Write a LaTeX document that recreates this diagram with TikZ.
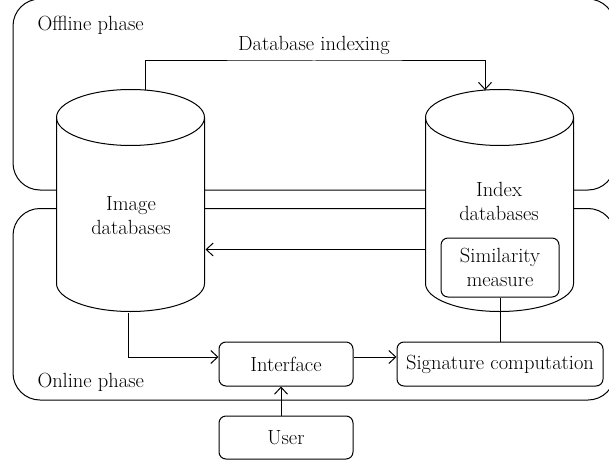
\documentclass[tikz,border=0pt]{standalone}
\usetikzlibrary{arrows.meta}
\begin{document}
\begin{tikzpicture}[x=1pt,y=1pt,
  font=\fontsize{20.5}{24}\selectfont,
  line width=1pt,
  phase/.style={draw, rounded corners=27pt},
  dbarea/.style={minimum width=148pt, minimum height=222pt, inner sep=0pt},
  cyl/.style={draw, fill=white},
  box/.style={draw, fill=white, rounded corners=7pt, inner sep=0pt, align=center},
  conn/.style={-{Straight Barb[length=7pt,width=13pt]}},
  lbl/.style={inner sep=0pt, align=center}
]
\useasboundingbox (0,0) rectangle (609,461);
\clip (0,0) rectangle (609,461);

% phase frames
\draw[phase] (13,271) rectangle (615,462);
\draw[phase] (13,61) rectangle (615,252.5);
\node[lbl, anchor=west] (offl) at (37,436) {Offline phase};
\node[lbl, anchor=west] (onl) at (37,79) {Online phase};

% cylinder areas
\node[dbarea] (imgdb) at (131,260) {};
\node[dbarea] (idxdb) at (500,260) {};

% cylinders
\foreach \c in {imgdb,idxdb}{
  \draw[cyl] (\c.north west) ++(0,-28) -- ++(0,-166)
    arc[start angle=180, end angle=360, x radius=74pt, y radius=28pt]
    -- ++(0,166)
    arc[start angle=0, end angle=180, x radius=74pt, y radius=28pt] -- cycle;
  \draw (\c.north west) ++(0,-28)
    arc[start angle=180, end angle=360, x radius=74pt, y radius=28pt];
}

\node[lbl] (imgtxt) at (131,245) {Image\\databases};
\node[lbl] (idxtxt) at (499,259.5) {Index\\databases};

% boxes
\node[box, minimum width=118pt, minimum height=59pt] (sim) at (500,193.5) {Similarity\\measure};
\node[box, minimum width=134pt, minimum height=44pt] (iface) at (286,97) {Interface};
\node[box, minimum width=206pt, minimum height=44pt] (sig) at (500,97) {Signature computation};
\node[box, minimum width=134pt, minimum height=43pt] (user) at (286,23.5) {User};

% connectors
\draw[conn] ([xshift=14.7pt,yshift=-0.6pt]imgdb.north) |- (314,400) -| ([xshift=-15pt,yshift=-0.6pt]idxdb.north);
\node[lbl] (dbi) at (314,416) {Database indexing};
\draw[conn] ([yshift=-48.5pt]idxdb.west) -- ([yshift=-48.5pt]imgdb.east);
\draw[conn] ([xshift=-2.5pt]imgdb.south) |- ([yshift=7pt]iface.west);
\draw[conn] ([yshift=7pt]iface.east) -- ([yshift=7pt]sig.west);
\draw[conn] ([xshift=-5pt]user.north) -- ([xshift=-5pt]iface.south);
\draw (sim.south) -- (sig.north);
\end{tikzpicture}
\end{document}
